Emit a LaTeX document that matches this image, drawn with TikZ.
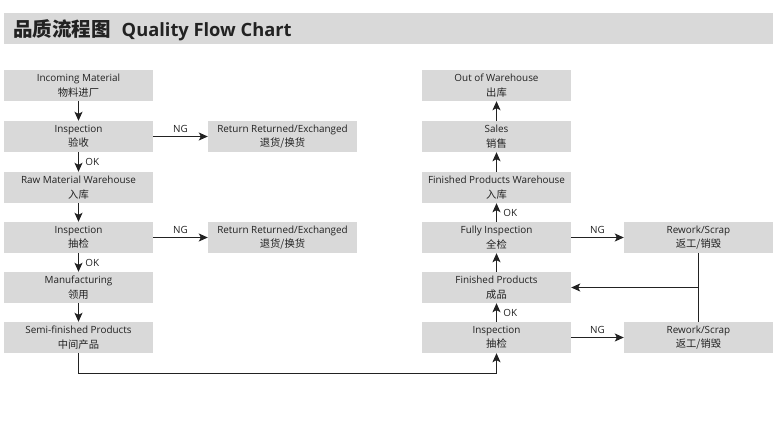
\documentclass[tikz,border=0pt]{standalone}
\usepackage{fontspec}
\setmainfont{Open Sans}
\newfontfamily\zhfont{Noto Sans CJK SC}
\usetikzlibrary{arrows.meta}
\definecolor{boxgray}{HTML}{D9D9D9}
\definecolor{ink}{HTML}{222222}
\newcommand{\zh}[1]{{\zhfont\fontsize{10.3}{14.5}\selectfont #1}}

\begin{document}
\begin{tikzpicture}[x=1pt,y=-1pt,
    box/.style={fill=boxgray, minimum width=149pt, minimum height=31pt,
      inner sep=0pt, align=center, text=ink,
      font=\fontsize{9.9}{14.5}\selectfont},
    flow/.style={-{Stealth[length=9pt,width=8pt,inset=2pt]},
      line width=1.2pt, draw=ink},
    tag/.style={font=\fontsize{9.9}{12}\selectfont, text=ink}]
    \useasboundingbox (0,0) rectangle (777,432);
    % title bar
    \fill[boxgray] (4,13) rectangle (773,44);
    \node[anchor=base west, inner sep=0pt, text=ink] (title) at (13,36)
      {{\zhfont\bfseries\fontsize{19.5}{20}\selectfont 品质流程图}\hspace{11pt}%
       {\bfseries\fontsize{18.3}{20}\selectfont Quality Flow Chart}};
    % incoming side
    \node[box] (inc) at (78.5,85.5) {Incoming Material\\\zh{物料进厂}};
    \node[box] (chk) at (78.5,136.5) {Inspection\\\zh{验收}};
    \node[box] (raw) at (78.5,187.5) {Raw Material Warehouse\\\zh{入库}};
    \node[box] (spot) at (78.5,237.5) {Inspection\\\zh{抽检}};
    \node[box] (mfg) at (78.5,287.5) {Manufacturing\\\zh{领用}};
    \node[box] (semi) at (78.5,337.5) {Semi-finished Products\\\zh{中间产品}};
    \node[box] (ret1) at (282.5,136.5) {Return Returned/Exchanged\\\zh{退货/换货}};
    \node[box] (ret2) at (282.5,237.5) {Return Returned/Exchanged\\\zh{退货/换货}};
    % outgoing side
    \node[box] (out) at (496.5,85.5) {Out of Warehouse\\\zh{出库}};
    \node[box] (sale) at (496.5,136.5) {Sales\\\zh{销售}};
    \node[box] (fpw) at (496.5,187.5) {Finished Products Warehouse\\\zh{入库}};
    \node[box] (full) at (496.5,237.5) {Fully Inspection\\\zh{全检}};
    \node[box] (fin) at (496.5,287.5) {Finished Products\\\zh{成品}};
    \node[box] (qc) at (496.5,337.5) {Inspection\\\zh{抽检}};
    \node[box] (rw1) at (698.5,237.5) {Rework/Scrap\\\zh{返工/销毁}};
    \node[box] (rw2) at (698.5,337.5) {Rework/Scrap\\\zh{返工/销毁}};
    % connectors
    \draw[flow] (inc) -- (chk);
    \draw[flow] (chk) -- node[right, tag, xshift=3pt] {OK} (raw);
    \draw[flow] (raw) -- (spot);
    \draw[flow] (spot) -- node[right, tag, xshift=3pt] {OK} (mfg);
    \draw[flow] (mfg) -- (semi);
    \draw[flow] (chk) -- node[above, tag] {NG} (ret1);
    \draw[flow] (spot) -- node[above, tag] {NG} (ret2);
    \draw[flow] (semi.south) -- ++(0,20) -| (qc.south);
    \draw[flow] (qc) -- node[right, tag, xshift=3pt] {OK} (fin);
    \draw[flow] (fin) -- (full);
    \draw[flow] (full) -- node[right, tag, xshift=3pt] {OK} (fpw);
    \draw[flow] (fpw) -- (sale);
    \draw[flow] (sale) -- (out);
    \draw[flow] (full) -- node[above, tag] {NG} (rw1);
    \draw[flow] (qc) -- node[above, tag] {NG} (rw2);
    \draw[line width=1.2pt, draw=ink] (rw1) -- (rw2);
    \coordinate (back) at (rw1 |- fin);
    \draw[flow] (back) -- (fin);
\end{tikzpicture}
\end{document}
